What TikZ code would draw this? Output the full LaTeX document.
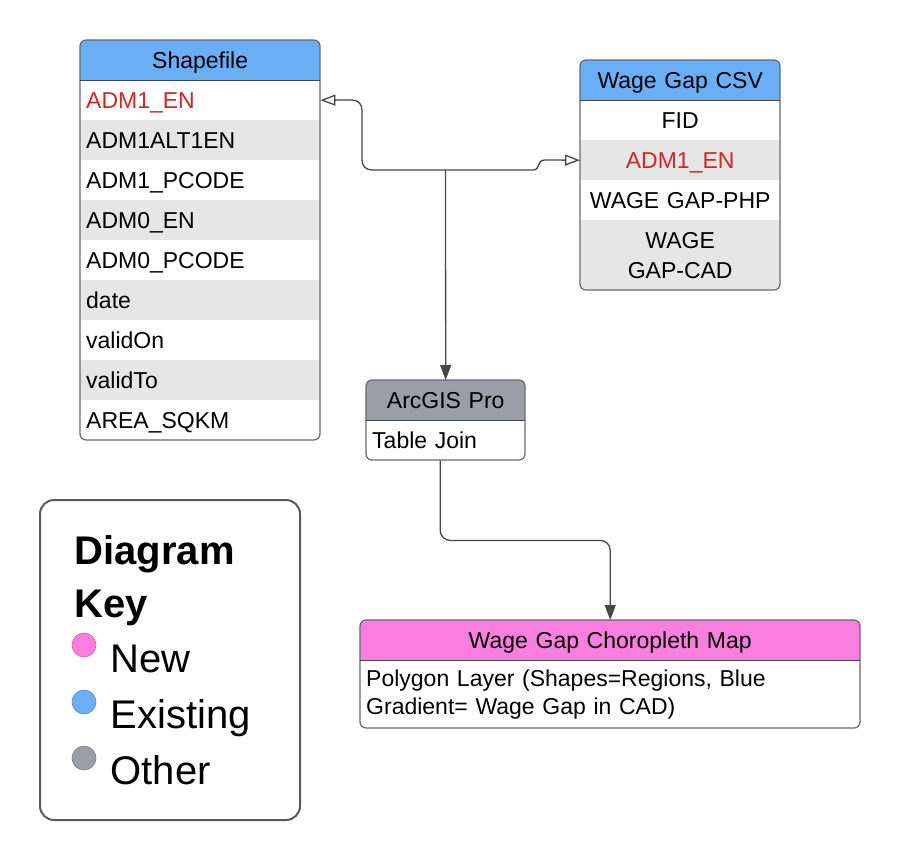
\documentclass[tikz,border=0pt]{standalone}
\usepackage{fontspec}
\setmainfont{Liberation Sans}
\usetikzlibrary{arrows.meta}
\definecolor{hdrblue}{RGB}{106,174,246}
\definecolor{hdrpink}{RGB}{250,126,222}
\definecolor{hdrgray}{RGB}{154,158,166}
\definecolor{rowgray}{RGB}{230,230,230}
\definecolor{keyred}{RGB}{211,38,38}
\definecolor{edgegray}{RGB}{105,105,110}
\definecolor{linegray}{RGB}{70,70,70}
\definecolor{keyframe}{RGB}{85,90,100}
\newcommand{\fsz}{\fontsize{23}{28}\selectfont}
\begin{document}
\begin{tikzpicture}[x=1pt,y=-1pt,
  every node/.style={font=\fsz},
  cell/.style={rectangle, anchor=north west, minimum height=40pt, inner xsep=6pt, inner ysep=0pt, text height=16.5pt, text depth=0pt},
  lcell/.style={cell, align=left},
  ccell/.style={cell, align=center},
  frame/.style={draw=edgegray, line width=1.2pt, rounded corners=6pt},
  sepline/.style={draw=linegray, line width=1.2pt},
  conn/.style={draw=linegray, line width=1.3pt},
  otip/.tip={Triangle[open, length=15pt, width=11pt]},
  ftip/.tip={Triangle[length=15pt, width=11pt]},
  dot/.style={circle, minimum size=24pt, inner sep=0pt, draw=#1!80!black, line width=0.6pt, fill=#1},
  keytext/.style={anchor=base west, font=\fontsize{40}{48}\selectfont}
]
\useasboundingbox (0,0) rectangle (900,859);

% ---------------- Shapefile ----------------
\begin{scope}
\clip[rounded corners=6pt] (80,40) rectangle (320,440);
\fill[white] (80,40) rectangle (320,440);
\node[ccell, fill=hdrblue, text width=228pt] (shpH) at (80,40) {Shapefile};
\node[lcell, text width=228pt] (shpA) at (80,80) {\color{keyred}ADM1\_EN};
\node[lcell, text width=228pt, fill=rowgray] (shpB) at (80,120) {ADM1ALT1EN};
\node[lcell, text width=228pt] (shpC) at (80,160) {ADM1\_PCODE};
\node[lcell, text width=228pt, fill=rowgray] (shpD) at (80,200) {ADM0\_EN};
\node[lcell, text width=228pt] (shpE) at (80,240) {ADM0\_PCODE};
\node[lcell, text width=228pt, fill=rowgray] (shpF) at (80,280) {date};
\node[lcell, text width=228pt] (shpG) at (80,320) {validOn};
\node[lcell, text width=228pt, fill=rowgray] (shpI) at (80,360) {validTo};
\node[lcell, text width=228pt] (shpJ) at (80,400) {AREA\_SQKM};
\end{scope}
\draw[frame] (80,40) rectangle (320,440);
\draw[sepline] (shpH.south west) -- (shpH.south east);

% ---------------- Wage Gap CSV ----------------
\begin{scope}
\clip[rounded corners=6pt] (580,60) rectangle (780,290);
\fill[white] (580,60) rectangle (780,290);
\node[ccell, fill=hdrblue, text width=188pt] (csvH) at (580,60) {Wage Gap CSV};
\node[ccell, text width=188pt] (csvA) at (580,100) {FID};
\node[ccell, text width=188pt, fill=rowgray] (csvB) at (580,140) {\color{keyred}ADM1\_EN};
\node[ccell, text width=188pt] (csvC) at (580,180) {WAGE GAP-PHP};
\node[rectangle, anchor=north west, minimum height=70pt, inner xsep=6pt, inner ysep=0pt, text width=188pt, align=center, fill=rowgray, font=\fontsize{23}{30}\selectfont] (csvD) at (580,220) {WAGE\\GAP-CAD};
\end{scope}
\draw[frame] (580,60) rectangle (780,290);
\draw[sepline] (csvH.south west) -- (csvH.south east);

% ---------------- ArcGIS Pro ----------------
\begin{scope}
\clip[rounded corners=6pt] (366,380) rectangle (525,460);
\fill[white] (366,380) rectangle (525,460);
\node[ccell, fill=hdrgray, text width=147pt] (arcH) at (366,380) {ArcGIS Pro};
\node[lcell, text width=147pt] (arcB) at (366,420) {Table Join};
\end{scope}
\draw[frame] (366,380) rectangle (525,460);
\draw[sepline] (arcH.south west) -- (arcH.south east);

% ---------------- Choropleth ----------------
\begin{scope}
\clip[rounded corners=6pt] (360,620) rectangle (860,728);
\fill[white] (360,620) rectangle (860,728);
\node[ccell, fill=hdrpink, text width=488pt] (mapH) at (360,620) {Wage Gap Choropleth Map};
\node[rectangle, anchor=north west, minimum height=68pt, inner xsep=6pt, inner ysep=0pt, text width=488pt, align=left, font=\fontsize{23}{28}\selectfont] (mapB) at (360,660) {Polygon Layer (Shapes=Regions, Blue\\Gradient= Wage Gap in CAD)};
\end{scope}
\draw[frame] (360,620) rectangle (860,728);
\draw[sepline] (mapH.south west) -- (mapH.south east);

% ---------------- Connectors ----------------
\coordinate (jn) at (445.5,170);
\draw[conn, otip-otip] (shpA.east) -- (352,100) .. controls (358,100) and (362,104) .. (362,110)
  -- (362,160) .. controls (362,166) and (366,170) .. (372,170)
  -- (533,170) .. controls (541,170) and (536,160) .. (545,160) -- (csvB.west);
\draw[conn, -ftip] (jn) -- (arcH.north);
\draw[conn, -ftip, rounded corners=10pt] ([xshift=-5.5pt]arcB.south) -- ++(0,80) -| (mapH.north);

% ---------------- Legend ----------------
\draw[draw=keyframe, line width=2pt, rounded corners=14pt] (40,500) rectangle (300,820);
\node[keytext, font=\bfseries\fontsize{40}{48}\selectfont] (keyT1) at (71,564) {Diagram};
\node[keytext, font=\bfseries\fontsize{40}{48}\selectfont] (keyT2) at (71,617) {Key};
\node[dot=hdrpink] (dotN) at (84,645) {};
\node[keytext] (keyN) at (107,672) {New};
\node[dot=hdrblue] (dotE) at (84,702) {};
\node[keytext] (keyE) at (107,728) {Existing};
\node[dot=hdrgray] (dotO) at (84,758) {};
\node[keytext] (keyO) at (107,784) {Other};
\end{tikzpicture}
\end{document}
